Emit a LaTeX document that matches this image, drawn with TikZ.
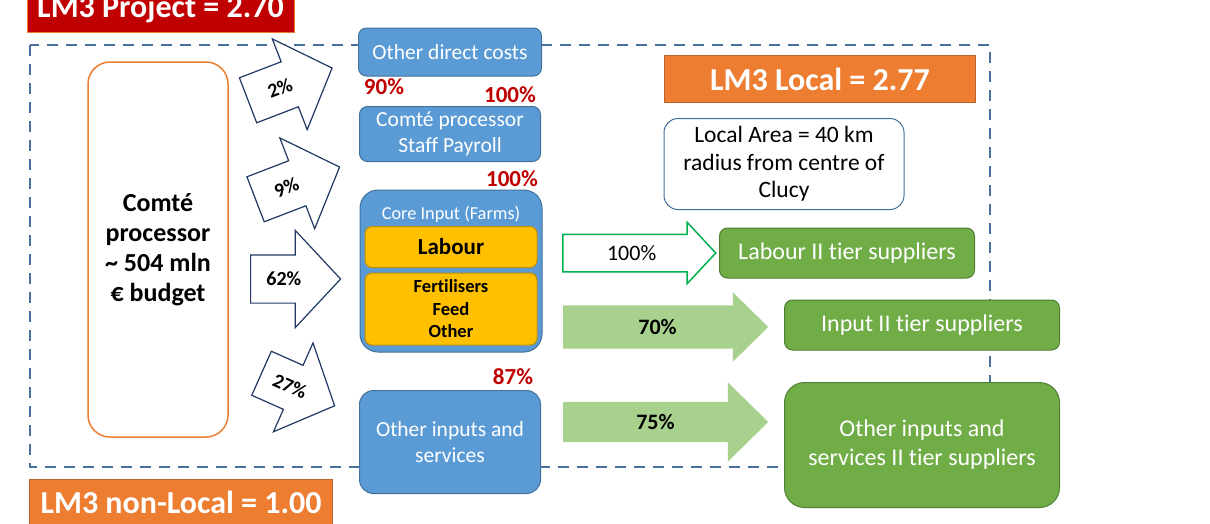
\documentclass[tikz,border=0pt]{standalone}
\usepackage{fontspec}
\setmainfont{Carlito}[Ligatures=NoCommon]
\usetikzlibrary{shapes.arrows,calc}

\definecolor{projred}{HTML}{C00000}
\definecolor{lmorange}{HTML}{ED7D31}
\definecolor{boxblue}{HTML}{5B9BD5}
\definecolor{blueline}{HTML}{41719C}
\definecolor{dashblue}{HTML}{47709E}
\definecolor{navy}{HTML}{1F3864}
\definecolor{coreyellow}{HTML}{FFC000}
\definecolor{yellowline}{HTML}{C09000}
\definecolor{tiergreen}{HTML}{70AD47}
\definecolor{greenline}{HTML}{507E32}
\definecolor{lightgreen}{HTML}{A9D18E}
\definecolor{arrowgreen}{HTML}{00B050}

\tikzset{
  lmbox/.style={draw=#1!80!black, fill=#1, text=white, inner sep=0pt,
    font=\bfseries\fontsize{32}{36}\selectfont},
  bluebox/.style={draw=blueline, fill=boxblue, line width=1pt, rounded corners=8pt,
    text=white, align=center, font=\fontsize{21.5}{26}\selectfont},
  yellowbox/.style={draw=yellowline, fill=coreyellow, line width=1pt, rounded corners=7pt,
    align=center, inner sep=0pt},
  greenbox/.style={draw=greenline, fill=tiergreen, line width=1pt, rounded corners=8pt,
    text=white, align=center, font=\fontsize{24}{29}\selectfont},
  redpct/.style={text=projred, font=\bfseries\fontsize{23}{26}\selectfont},
  blockarrow/.style={single arrow, anchor=tail, inner xsep=0pt, text height=14pt, text depth=0pt},
  pctarrow/.style={blockarrow, draw=navy, fill=white, line width=1.2pt,
    minimum height=90pt, inner ysep=16.5pt, single arrow head extend=24.5pt,
    single arrow tip angle=94},
  pcttext/.style={font=\bfseries\fontsize{20}{22}\selectfont},
  flowtext/.style={font=\fontsize{22}{24}\selectfont},
  flowbold/.style={font=\bfseries\fontsize{22}{24}\selectfont},
}

\begin{document}
\begin{tikzpicture}[x=1pt,y=-1pt]
  \useasboundingbox (0,0) rectangle (1210,523);
  \clip (0,0) rectangle (1210,523);

  % local area border
  \draw[dashblue, line width=2.5pt, dash pattern=on 11pt off 8pt] (30,45) rectangle (990,467);

  \node[lmbox=projred, draw=lmorange, minimum width=267pt, minimum height=46pt] (project) at (160.5,9) {LM3 Project = 2.70};
  \node[lmbox=lmorange, minimum width=311pt, minimum height=47pt] (local) at (820,79) {LM3 Local = 2.77};
  \node[lmbox=lmorange, minimum width=303pt, minimum height=45pt] (nonlocal) at (181,502) {LM3 non-Local = 1.00};

  \node[draw=lmorange, line width=1.5pt, fill=white, rounded corners=22pt, align=center,
    minimum width=140pt, minimum height=375pt, font=\bfseries\fontsize{26}{30}\selectfont]
    (proc) at (158,249.5) {Comté\\processor\\\textasciitilde\ 504 mln\\€ budget};

  % first tier
  \node[pctarrow, rotate=21] (a2) at (247.5,100.5) {};
  \node[pctarrow, rotate=21] (a9) at (255,199.5) {};
  \node[pctarrow] (a62) at (250,279) {};
  \node[pctarrow, rotate=-24, minimum height=80pt] (a27) at (261,373) {};
  \node[pcttext, rotate=21] (t2) at ($(a2.tail)!0.38!(a2.tip)$) {2\%};
  \node[pcttext, rotate=21] (t9) at ($(a9.tail)!0.37!(a9.tip)$) {9\%};
  \node[pcttext] (t62) at ($(a62.tail)!0.37!(a62.tip)$) {62\%};
  \node[pcttext, rotate=-24] (t27) at ($(a27.tail)!0.39!(a27.tip)$) {27\%};

  \node[bluebox, minimum width=183pt, minimum height=48pt] (direct) at (450,52) {Other direct costs};
  \node[bluebox, minimum width=181pt, minimum height=55pt] (payroll) at (450,134) {Comté processor\\Staff Payroll};
  \node[bluebox, rounded corners=18pt, minimum width=182pt, minimum height=162pt] (core) at (451,271) {};
  \node[text=white, font=\fontsize{18.3}{20}\selectfont] (coretitle) at (451,214) {Core Input (Farms)};
  \node[yellowbox, minimum width=172pt, minimum height=41pt, font=\bfseries\fontsize{23}{26}\selectfont] (labour) at (451,247) {Labour};
  \node[yellowbox, minimum width=172pt, minimum height=72pt, font=\bfseries\fontsize{18.5}{22.5}\selectfont] (fert) at (451,309) {Fertilisers\\Feed\\Other};
  \node[bluebox, rounded corners=14pt, minimum width=181pt, minimum height=103pt] (services) at (450,442) {Other inputs and\\services};

  \node[redpct] (p90) at (384,87) {90\%};
  \node[redpct] (p100a) at (510,95) {100\%};
  \node[redpct] (p100b) at (512,179) {100\%};
  \node[redpct] (p87) at (513,377) {87\%};

  \node[draw=blueline, line width=1pt, fill=white, rounded corners=14pt, align=center,
    minimum width=240pt, minimum height=91pt, font=\fontsize{23.5}{27.5}\selectfont]
    (area) at (784,164) {Local Area = 40 km\\radius from centre of\\Clucy};

  % second tier
  \node[blockarrow, draw=arrowgreen, line width=1.5pt, fill=white, minimum height=153pt,
    inner ysep=11pt, single arrow head extend=12pt, single arrow tip angle=94] (f100) at (562,253) {};
  \node[blockarrow, fill=lightgreen, minimum height=205pt,
    inner ysep=14.5pt, single arrow head extend=13pt, single arrow tip angle=89] (f70) at (563,327) {};
  \node[blockarrow, fill=lightgreen, minimum height=205pt,
    inner ysep=13pt, single arrow head extend=19.5pt, single arrow tip angle=89] (f75) at (563,422) {};
  \node[flowtext] (t100) at ($(f100.tail)!0.45!(f100.tip)$) {100\%};
  \node[flowbold] (t70) at ($(f70.tail)!0.46!(f70.tip)$) {70\%};
  \node[flowbold] (t75) at ($(f75.tail)!0.45!(f75.tip)$) {75\%};

  \node[greenbox, minimum width=255pt, minimum height=50pt] (labour2) at (847,253) {Labour II tier suppliers};
  \node[greenbox, minimum width=275pt, minimum height=50pt] (input2) at (922,325) {Input II tier suppliers};
  \node[greenbox, rounded corners=20pt, minimum width=275pt, minimum height=125pt] (other2) at (922,445) {Other inputs and\\services II tier suppliers};
\end{tikzpicture}
\end{document}
